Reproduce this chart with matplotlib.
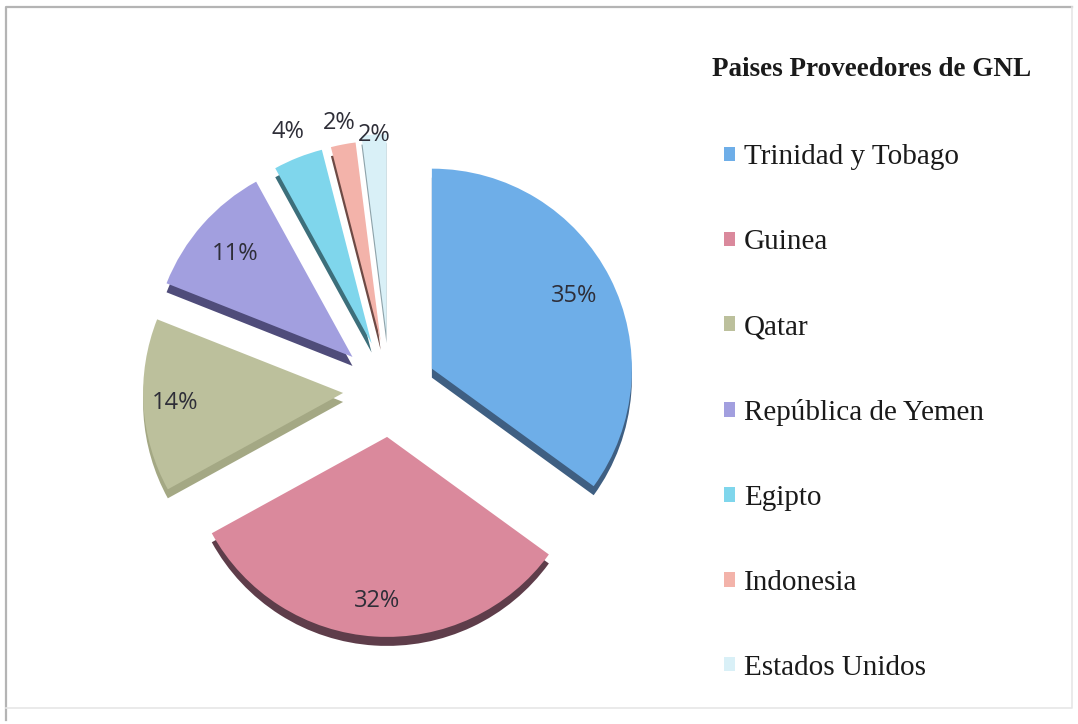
import numpy as np
import matplotlib
matplotlib.use("Agg")
import matplotlib.pyplot as plt
from matplotlib.lines import Line2D

# data
countries = [
    "Trinidad y Tobago",
    "Guinea",
    "Qatar",
    "República de Yemen",
    "Egipto",
    "Indonesia",
    "Estados Unidos",
]
shares = [35, 32, 14, 11, 4, 2, 2]

top_colors = ["#6eaee8", "#da899c", "#bcc09c", "#a29fdf", "#7fd6ec", "#f3b3aa", "#d9f0f7"]
side_colors = ["#3f5f82", "#5e3d4a", "#a4a884", "#4f4c7a", "#3d6f7b", "#6d4a45", "#8ea3aa"]
explode_frac = [0.235, 0.235, 0.235, 0.25, 0.25, 0.25, 0.28]
label_dist = [0.8, 0.82, 0.84, 0.78, 1.14, 1.11, 1.0]

W, H = 1078, 724
CX, CY, R = 390, H - 390, 200
DEPTH = 9

fig = plt.figure(figsize=(W / 100, H / 100), dpi=100)
fig.patch.set_facecolor("white")
ax = fig.add_axes([0, 0, 1, 1])

explode = [e * R for e in explode_frac]

# side (depth) of the 3d pie, shifted down
ax.pie(shares, colors=side_colors, explode=explode, startangle=90,
       counterclock=False, radius=R, center=(CX, CY - DEPTH),
       wedgeprops=dict(linewidth=0))

wedges, texts, autotexts = ax.pie(
    shares, colors=top_colors, explode=explode, startangle=90,
    counterclock=False, radius=R, center=(CX, CY),
    autopct="%1.0f%%", pctdistance=0.8,
    wedgeprops=dict(linewidth=0),
    textprops=dict(fontsize=17, color="#2e2e38", family="Open Sans"),
)

for w, t, d in zip(wedges, autotexts, label_dist):
    ang = np.deg2rad((w.theta1 + w.theta2) / 2)
    cx, cy = w.center
    t.set_position((cx + d * w.r * np.cos(ang), cy + d * w.r * np.sin(ang)))

ax.set_xlim(0, W)
ax.set_ylim(0, H)
ax.set_aspect("equal")
ax.axis("off")

fig.text(872 / W, 1 - 70 / H, "Paises Proveedores de GNL", ha="center", va="center",
         fontsize=19.5, fontweight="bold", family="Liberation Serif", color="#1a1a1a")

leg = fig.legend(wedges, countries, loc="upper left",
                 bbox_to_anchor=(698 / W, 1 - 118 / H),
                 frameon=False, handlelength=0.38, handleheight=0.38,
                 handletextpad=0.3, labelspacing=2.02,
                 prop=dict(family="Liberation Serif", size=21))
for txt in leg.get_texts():
    txt.set_color("#1a1a1a")

# chart border
fig.add_artist(Line2D([6 / W, 6 / W, 1072 / W], [1 - 720 / H, 1 - 7 / H, 1 - 7 / H],
                      transform=fig.transFigure, color="#b4b4b4", linewidth=1.6))
fig.add_artist(Line2D([6 / W, 1072 / W, 1072 / W], [1 - 708 / H, 1 - 708 / H, 1 - 7 / H],
                      transform=fig.transFigure, color="#e6e6e6", linewidth=1.2))

fig.savefig("out.png", dpi=100)
